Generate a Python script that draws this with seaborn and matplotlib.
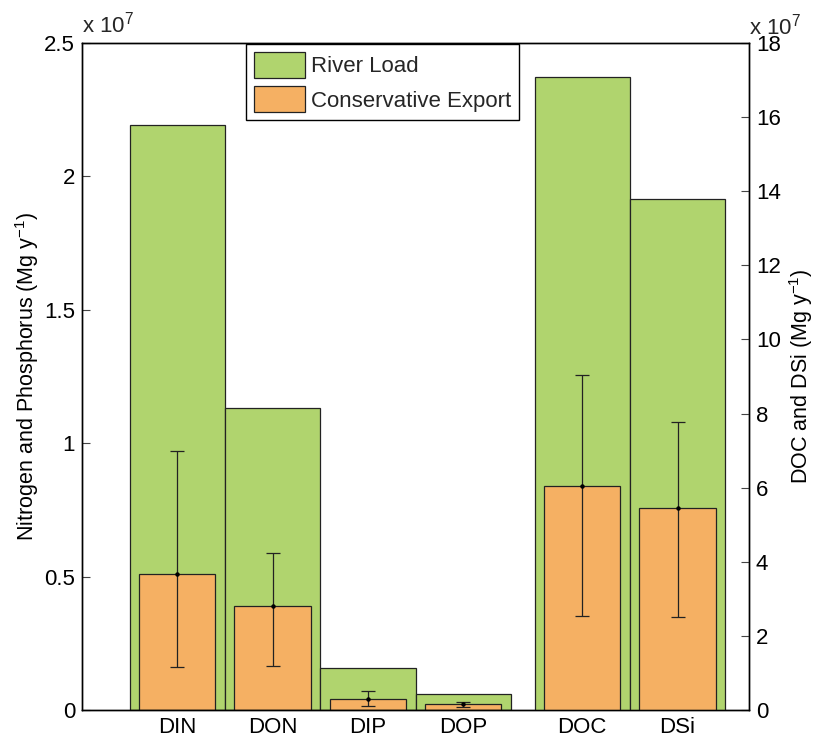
import numpy as np
import pandas as pd
import seaborn as sns
import matplotlib
matplotlib.use("Agg")
import matplotlib.pyplot as plt
from matplotlib.patches import Patch

# Nutrient budgets (Mg per year); N and P on the left axis, DOC and DSi on the right
np_species = ["DIN", "DON", "DIP", "DOP"]
np_river_load = [2.193e7, 1.132e7, 0.157e7, 0.061e7]
np_export = [0.510e7, 0.390e7, 0.041e7, 0.021e7]
np_export_low = [0.161e7, 0.165e7, 0.015e7, 0.010e7]
np_export_high = [0.971e7, 0.588e7, 0.071e7, 0.031e7]

cs_species = ["DOC", "DSi"]
cs_river_load = [17.08e7, 13.79e7]
cs_export = [6.04e7, 5.44e7]
cs_export_low = [2.54e7, 2.51e7]
cs_export_high = [9.04e7, 7.77e7]

np_pos = [1.0, 2.0, 3.0, 4.0]
cs_pos = [5.25, 6.25]

GREEN = "#B0D46E"
ORANGE = "#F5B063"
EDGE = "#222222"

sns.set_theme(style="white")
plt.rcParams["font.family"] = ["Liberation Sans", "DejaVu Sans"]
plt.rcParams["mathtext.fontset"] = "custom"
plt.rcParams["mathtext.rm"] = "Liberation Sans"
plt.rcParams["mathtext.it"] = "Liberation Sans"

fig = plt.figure(figsize=(8.13, 7.38), dpi=100)
ax = fig.add_axes([0.1009, 0.0379, 0.8204, 0.9038])
ax2 = ax.twinx()

def draw(axis, pos, load, export, low, high):
    sns.barplot(x=pos, y=load, native_scale=True, width=1.0, color=GREEN,
                saturation=1, edgecolor=EDGE, linewidth=0.9, ax=axis, zorder=1)
    sns.barplot(x=pos, y=export, native_scale=True, width=0.8, color=ORANGE,
                saturation=1, edgecolor=EDGE, linewidth=0.9, ax=axis, zorder=2)
    e = np.array(export)
    yerr = np.vstack([e - np.array(low), np.array(high) - e])
    axis.errorbar(pos, e, yerr=yerr, fmt="o", color="black", ecolor="#222222",
                  elinewidth=0.9, capsize=5, capthick=0.9, markersize=2.2, zorder=3)

draw(ax, np_pos, np_river_load, np_export, np_export_low, np_export_high)
draw(ax2, cs_pos, cs_river_load, cs_export, cs_export_low, cs_export_high)

ax.set_xlim(0, 7)
ax2.set_xlim(0, 7)
ax.set_ylim(0, 2.5e7)
ax2.set_ylim(0, 18e7)

ax.set_yticks(np.arange(0, 2.51e7, 0.5e7))
ax.set_yticklabels(["0", "0.5", "1", "1.5", "2", "2.5"])
ax2.set_yticks(np.arange(0, 18.1e7, 2e7))
ax2.set_yticklabels([str(v) for v in range(0, 19, 2)])
ax.set_xticks(np_pos + cs_pos)
ax.set_xticklabels(np_species + cs_species)

for a in (ax, ax2):
    for s in a.spines.values():
        s.set_color("black")
        s.set_linewidth(1.0)
    a.tick_params(direction="in", length=6, width=0.8, color="#444444",
                  labelsize=16, labelcolor="black", pad=5)
    a.set_xlabel("")
ax.tick_params(axis="x", length=0)
ax.tick_params(axis="y", right=False)
ax2.tick_params(axis="y", left=False)

ax.set_ylabel("Nitrogen and Phosphorus (Mg y$^{-1}$)", fontsize=15.5, color="black")
ax2.set_ylabel("DOC and DSi (Mg y$^{-1}$)", fontsize=15.5, color="black")
ax.yaxis.set_label_coords(-0.062, 0.5)
ax2.yaxis.set_label_coords(1.057, 0.5)

ax.text(0.0, 1.008, "x 10$^{7}$", transform=ax.transAxes, fontsize=16, ha="left", va="bottom")
ax2.text(1.0, 1.006, "x 10$^{7}$", transform=ax2.transAxes, fontsize=16, ha="left", va="bottom")

handles = [Patch(facecolor=GREEN, edgecolor=EDGE, linewidth=0.9, label="River Load"),
           Patch(facecolor=ORANGE, edgecolor=EDGE, linewidth=0.9, label="Conservative Export")]
leg = ax2.legend(handles=handles, loc="upper left", bbox_to_anchor=(0.244, 1.0),
                 fontsize=16, frameon=True, fancybox=False, framealpha=1,
                 edgecolor="black", borderpad=0.35, handlelength=2.3, handleheight=1.45,
                 handletextpad=0.3, labelspacing=0.35, borderaxespad=0.05)
leg.get_frame().set_linewidth(1.0)
leg.set_zorder(10)

fig.savefig("out.png", dpi=100)
